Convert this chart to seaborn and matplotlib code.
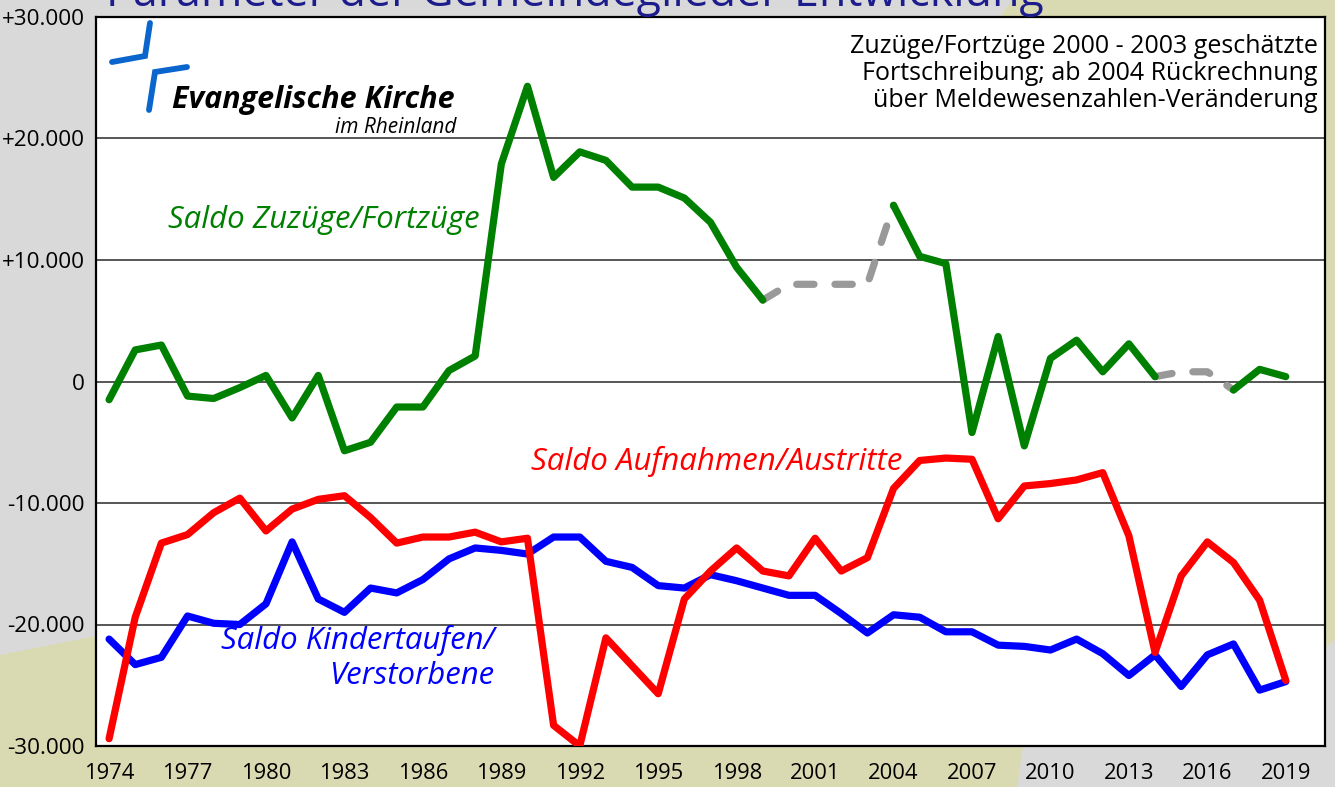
import numpy as np
import pandas as pd
import matplotlib.pyplot as plt
import seaborn as sns
from matplotlib.patches import Polygon
from matplotlib.lines import Line2D

# ---------- Data (values in persons) ----------
years = list(range(1974, 2020))

zuzuege_fortzuege = [
    -1500, 2600, 3000, -1200, -1400, -500, 500, -3000, 500, -5700,
    -5000, -2100, -2100, 900, 2100, 17900, 24300, 16800, 18900, 18200,
    16000, 16000, 15100, 13100, 9400, 6700, 8000, 8000, 8000, 8000,
    14500, 10300, 9700, -4200, 3700, -5300, 1900, 3400, 800, 3100,
    400, 800, 800, -700, 1000, 400,
]
aufnahmen_austritte = [
    -29400, -19400, -13300, -12600, -10800, -9600, -12300, -10500, -9700, -9400,
    -11200, -13300, -12800, -12800, -12400, -13200, -12900, -28300, -30000, -21100,
    -23400, -25700, -17900, -15600, -13700, -15600, -16000, -12900, -15600, -14500,
    -8800, -6500, -6300, -6400, -11300, -8600, -8400, -8100, -7500, -12700,
    -22300, -16000, -13200, -14900, -18000, -24600,
]
taufen_verstorbene = [
    -21200, -23300, -22700, -19300, -19900, -20000, -18300, -13200, -17900, -19000,
    -17000, -17400, -16300, -14600, -13700, -13900, -14200, -12800, -12800, -14800,
    -15300, -16800, -17000, -15900, -16400, -17000, -17600, -17600, -19100, -20700,
    -19200, -19400, -20600, -20600, -21700, -21800, -22100, -21200, -22400, -24200,
    -22500, -25100, -22500, -21600, -25400, -24700,
]
# years where Zuzüge/Fortzüge are estimates (drawn grey dashed)
estimated_years = [2000, 2001, 2002, 2003, 2015, 2016]

title_text = "Parameter der Gemeindeglieder-Entwicklung"
note_lines = [
    "Zuzüge/Fortzüge 2000 - 2003 geschätzte",
    "Fortschreibung; ab 2004 Rückrechnung",
    "über Meldewesenzahlen-Veränderung",
]

GREEN, RED, BLUE, GREY = "#008000", "#ff0000", "#0000ff", "#999999"
NAVY = "#1c1c8c"
LOGO_BLUE = "#0a66cc"

df = pd.DataFrame({
    "Jahr": years,
    "Zuzuege": zuzuege_fortzuege,
    "Aufnahmen": aufnahmen_austritte,
    "Taufen": taufen_verstorbene,
})
df["geschaetzt"] = df["Jahr"].isin(estimated_years)
df["run"] = (df["geschaetzt"] != df["geschaetzt"].shift()).cumsum()

# ---------- Figure ----------
W, H = 1335, 787
def fx(x):
    return x / W
def fy(y):
    return 1 - y / H

sns.set_style("white")
plt.rcParams["font.family"] = ["Open Sans", "DejaVu Sans"]
plt.rcParams["text.color"] = "black"
plt.rcParams["xtick.color"] = "black"
plt.rcParams["ytick.color"] = "black"

fig = plt.figure(figsize=(W / 100, H / 100), dpi=100)
fig.patch.set_facecolor("#d9d9d9")

# olive band of the slide background (mostly hidden behind the plot)
band = [(0, 655), (96, 636), (1000, 17), (1012, 0), (W, 0), (W, 640),
        (1325, 648), (1023, 746), (1017, H), (0, H)]
fig.patches.append(Polygon([(fx(x), fy(y)) for x, y in band], closed=True,
                           transform=fig.transFigure, facecolor="#d9d9b2",
                           edgecolor="none", zorder=-5))

ax = fig.add_axes([fx(96), fy(746), fx(1325) - fx(96), fy(17) - fy(746)])
ax.set_facecolor("white")

lw = 5.2
# solid parts of Zuzüge/Fortzüge
for _, seg in df[~df["geschaetzt"]].groupby("run"):
    sns.lineplot(data=seg, x="Jahr", y="Zuzuege", color=GREEN, lw=lw, ax=ax,
                 solid_capstyle="round", solid_joinstyle="round", zorder=3)
# estimated parts, joined to the neighbouring years
for _, seg in df[df["geschaetzt"]].groupby("run"):
    idx = list(range(seg.index.min() - 1, seg.index.max() + 2))
    sns.lineplot(data=df.loc[idx], x="Jahr", y="Zuzuege", color=GREY, lw=lw, ax=ax,
                 dash_capstyle="round", zorder=2)
    ax.lines[-1].set_dashes((2.4, 2.9))

sns.lineplot(data=df, x="Jahr", y="Taufen", color=BLUE, lw=lw, ax=ax,
             solid_capstyle="round", solid_joinstyle="round", zorder=3)
sns.lineplot(data=df, x="Jahr", y="Aufnahmen", color=RED, lw=lw, ax=ax,
             solid_capstyle="round", solid_joinstyle="round", zorder=4)

ax.set_xlim(1973.5, 2020.5)
ax.set_ylim(-30000, 30000)
ax.set_xlabel("")
ax.set_ylabel("")

yticks = list(range(-30000, 30001, 10000))
ax.set_yticks(yticks)
ax.set_yticklabels(["0" if v == 0 else f"{v:+,.0f}".replace(",", ".") for v in yticks])
ax.set_xticks(list(range(1974, 2020, 3)))
ax.set_xticks(np.arange(1973.5, 2021, 1), minor=True)
ax.tick_params(axis="x", which="major", length=0, labelsize=15.8, pad=12)
ax.tick_params(axis="x", which="minor", length=7, width=1.3, direction="out")
ax.tick_params(axis="y", which="major", length=7, width=1.3, direction="out",
               labelsize=16.2, pad=1)
ax.grid(axis="y", color="#3a3a3a", lw=1.2)
ax.set_axisbelow(True)
for sp in ax.spines.values():
    sp.set_visible(True)
    sp.set_color("black")
    sp.set_linewidth(1.6)

# ---------- Texts ----------
fig.text(fx(106), fy(6), title_text, color=NAVY, fontsize=32.2, va="baseline", ha="left")

for i, line in enumerate(note_lines):
    fig.text(fx(1318), fy(53 + 27 * i), line, fontsize=18, ha="right", va="baseline")

fig.text(fx(168), fy(228), "Saldo Zuzüge/Fortzüge", color=GREEN, fontsize=22.4,
         style="italic", va="baseline")
fig.text(fx(531), fy(470), "Saldo Aufnahmen/Austritte", color=RED, fontsize=22.5,
         style="italic", va="baseline")
fig.text(fx(494), fy(649), "Saldo Kindertaufen/", color=BLUE, fontsize=22.4,
         style="italic", va="baseline", ha="right")
fig.text(fx(494), fy(684), "Verstorbene", color=BLUE, fontsize=22.4,
         style="italic", va="baseline", ha="right")

# logo
for pts in ([(150, 23), (145, 56), (112, 62)], [(187, 67), (155, 72), (149, 110)]):
    fig.add_artist(Line2D([fx(p[0]) for p in pts], [fy(p[1]) for p in pts],
                          transform=fig.transFigure, color=LOGO_BLUE, lw=4.2,
                          solid_joinstyle="miter", zorder=5))
fig.text(fx(172), fy(108), "Evangelische Kirche", fontsize=22, fontweight="bold",
         style="italic", va="baseline", zorder=5)
fig.text(fx(456), fy(133), "im Rheinland", fontsize=15, style="italic",
         va="baseline", ha="right", zorder=5)

fig.savefig("out.png", dpi=100, facecolor=fig.get_facecolor())
